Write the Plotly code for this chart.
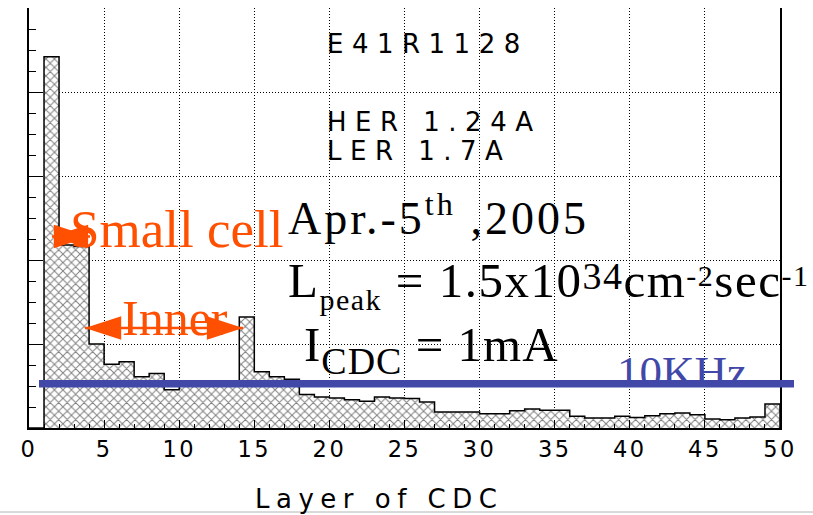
import plotly.graph_objects as go

# ---------------- data ----------------
layer_edges = list(range(0, 51))          # bin edges: layers 0..50
counts = [0.0, 4.42, 2.18, 2.16, 1.00, 0.76, 0.79, 0.61, 0.65, 0.456,
          0.52, 0.51, 0.53, 0.54, 1.32, 0.67, 0.61, 0.58, 0.40, 0.37,
          0.357, 0.337, 0.317, 0.37, 0.357, 0.35, 0.31, 0.19, 0.19, 0.19,
          0.17, 0.17, 0.206, 0.226, 0.21, 0.21, 0.14, 0.12, 0.12, 0.14,
          0.126, 0.146, 0.17, 0.178, 0.158, 0.107, 0.099, 0.119, 0.13, 0.286]
x_tick_values = list(range(0, 51, 5))
x_tick_labels = [str(v) for v in x_tick_values]
rate_10khz_level = 0.527
small_cell_span = [1.53, 4.06]
small_cell_level = 2.28
inner_span = [3.73, 14.25]
inner_level = 1.19
run_label = "E41R1128"
beam_labels = ["HER 1.24A", "LER 1.7A"]
x_title = "Layer of CDC"

# ---------------- layout helpers ----------------
W, H = 813, 515
ML, MR, MT, MB = 29, 33, 8, 87
PW, PH = W - ML - MR, H - MT - MB


def fx(p):
    return (p - ML) / PW


def fy(p):
    return (H - MB - p) / PH


ORANGE = "#ff4f00"
BLUE = "#4148a8"
SERIF = "Liberation Serif"
SANS = "DejaVu Sans"


def spaced(t, ls):
    return f'<span style="letter-spacing:{ls}px">{t}</span>'


centers = [e + 0.5 for e in layer_edges[:-1]]

fig = go.Figure()
fig.add_trace(go.Bar(
    x=centers, y=counts, width=1,
    marker=dict(color="white", line=dict(width=0),
                pattern=dict(shape="x", fgcolor="black", bgcolor="white",
                             size=6, solidity=0.3)),
    hoverinfo="skip"))
fig.add_trace(go.Scatter(
    x=layer_edges, y=counts + [0.0], mode="lines",
    line=dict(shape="hv", color="black", width=1.5), hoverinfo="skip"))

# double-headed orange arrows
for span, level in ((small_cell_span, small_cell_level),
                    (inner_span, inner_level)):
    fig.add_trace(go.Scatter(
        x=span, y=[level, level], mode="lines+markers",
        line=dict(color=ORANGE, width=2.5),
        marker=dict(symbol="arrow", angle=[-90, 90], size=38,
                    color=ORANGE, line=dict(width=0)),
        hoverinfo="skip", cliponaxis=False))

grid_dash = "1px,2px"
fig.update_xaxes(
    range=[0, 50], tickvals=x_tick_values, automargin=False,
    ticktext=[spaced(t, 2.5) for t in x_tick_labels],
    tickfont=dict(family=SANS, size=22.5, color="black"),
    ticks="inside", ticklen=8, tickwidth=1, tickcolor="black",
    showline=True, linecolor="black", linewidth=2, mirror=False,
    showgrid=True, gridcolor="black", gridwidth=1, griddash=grid_dash,
    zeroline=False,
    minor=dict(dtick=1, ticks="inside", ticklen=4, tickcolor="black",
               showgrid=False),
)
fig.update_yaxes(
    range=[0, 5], dtick=1, showticklabels=False, automargin=False,
    ticks="inside", ticklen=14, tickwidth=1, tickcolor="black",
    showline=True, linecolor="black", linewidth=2, mirror=True,
    showgrid=True, gridcolor="black", gridwidth=1, griddash=grid_dash,
    zeroline=False,
    minor=dict(dtick=0.25, ticks="inside", ticklen=7, tickcolor="black",
               showgrid=False),
)

ann = []


def text(t, x, y, size, family, color="black", yanchor="top"):
    ann.append(dict(text=t, x=fx(x), y=fy(y), xref="paper", yref="paper",
                    xanchor="left", yanchor=yanchor, showarrow=False,
                    borderpad=0, borderwidth=0,
                    font=dict(family=family, size=size, color=color)))


# x-axis title
text(spaced(x_title, 6.5), 255, 508.5 - 0.928 * 26, 26, SANS)

# ROOT-style labels
text(spaced(run_label, 8.5), 327, 53 - 0.928 * 26, 26, SANS)
text(spaced(beam_labels[0], 8.5), 327, 131 - 0.928 * 26, 26, SANS)
text(spaced(beam_labels[1], 8.5), 327, 160 - 0.928 * 26, 26, SANS)

# slide text
text(spaced("Apr.-5<sup>th</sup> ,2005", 3), 288, 234 + 0.216 * 46, 46, SERIF,
     yanchor="bottom")
lpeak = ('L<span style="font-size:30px;baseline-shift:-13px">peak</span>'
         ' = 1.5x10<span style="font-size:38px;baseline-shift:8px">34</span>'
         'cm<span style="font-size:30px;baseline-shift:11px">-2</span>'
         'sec<span style="font-size:30px;baseline-shift:11px">-1</span>')
text(spaced(lpeak, 1.5), 288, 297 - 0.891 * 49, 49, SERIF)
icdc = ('I<span style="font-size:38px;baseline-shift:-13px">CDC</span>'
        ' = 1mA')
text(spaced(icdc, 1), 304, 361 - 0.891 * 49, 49, SERIF)

text("Small cell", 70, 247 - 0.891 * 53, 53, SERIF, ORANGE)
text("Inner", 122, 335 - 0.891 * 50, 50, SERIF, ORANGE)
text("10KHz", 617, 387 - 0.891 * 45, 45, SERIF, BLUE)

fig.update_layout(
    width=W, height=H, autosize=False,
    margin=dict(l=ML, r=MR, t=MT, b=MB, autoexpand=False),
    plot_bgcolor="white", paper_bgcolor="white",
    showlegend=False, bargap=0,
    annotations=ann,
    shapes=[
        dict(type="line", xref="paper", yref="y", x0=fx(39), x1=fx(794),
             y0=rate_10khz_level, y1=rate_10khz_level,
             line=dict(color=BLUE, width=7.5), layer="above"),
        dict(type="line", xref="paper", yref="paper", x0=fx(0), x1=fx(W),
             y0=fy(512), y1=fy(512), line=dict(color="#b4b4b4", width=1)),
    ],
)

fig.write_html("out.html")
